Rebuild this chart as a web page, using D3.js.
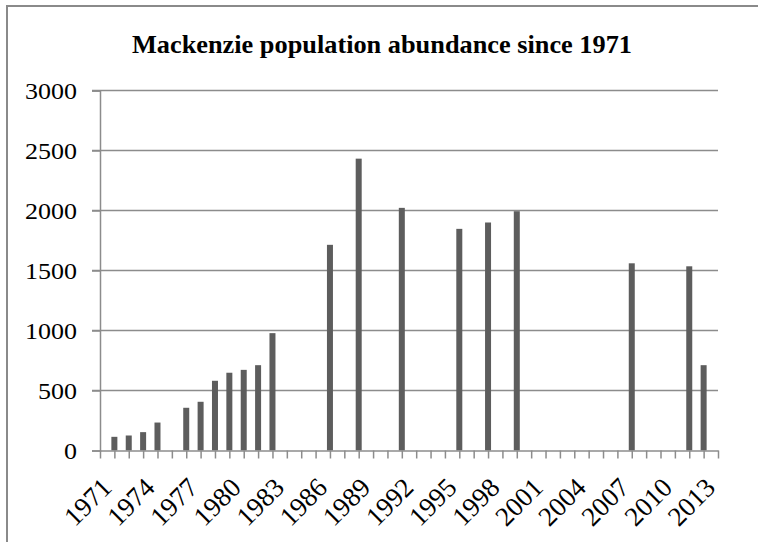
<!DOCTYPE html>
<html>
<head>
<meta charset="utf-8">
<script src="https://cdn.jsdelivr.net/npm/d3@7.9.0/dist/d3.min.js"></script>
<style>
  body { margin: 0; background: #fff; overflow: hidden; }
  svg { display: block; font-family: "Liberation Serif", "Times New Roman", serif; }
</style>
</head>
<body>
<svg id="chart" width="758" height="542"></svg>
<script>
// years on the category axis, 1971 .. 2014
const years = d3.range(1971, 2015);
// survey years and counts
const surveyYears = [1972, 1973, 1974, 1975, 1977, 1978, 1979, 1980, 1981, 1982, 1983,
                     1987, 1989, 1992, 1996, 1998, 2000, 2008, 2012, 2013];
const abundance = [114, 125, 153, 233, 356, 406, 581, 648, 672, 711, 978,
                   1714, 2432, 2022, 1847, 1900, 1994, 1560, 1535, 711];
const yTicks = [0, 500, 1000, 1500, 2000, 2500, 3000];
const labelYears = years.filter((y) => (y - 1971) % 3 === 0);

const svg = d3.select('#chart');
const plotLeft = 100, plotRight = 718, plotTop = 90.5, plotBottom = 450.5;
const axisGrey = '#8c8c8c';

// frame of the chart area, only its top and left edges are inside the picture
svg.append('path')
  .attr('d', 'M7,542V6H758')
  .attr('fill', 'none').attr('stroke', '#8a8a8a').attr('stroke-width', 2);

svg.append('text')
  .attr('x', 132).attr('y', 53)
  .attr('font-size', 26).attr('font-weight', 'bold')
  .attr('textLength', 500).attr('lengthAdjust', 'spacingAndGlyphs')
  .text('Mackenzie population abundance since 1971');

let x = d3.scalePoint().domain(years).range([plotLeft, plotRight]);
let y = d3.scaleLinear().domain([0, 3000]).range([plotBottom, plotTop]);

// gridlines
svg.append('g')
  .selectAll('line')
  .data(yTicks.filter((d) => d > 0))
  .join('line')
  .attr('x1', plotLeft - 8).attr('x2', plotRight)
  .attr('y1', (d) => y(d)).attr('y2', (d) => y(d))
  .attr('stroke', axisGrey).attr('stroke-width', 1.5);

// y axis
let yAxis = svg.append('g')
  .attr('transform', `translate(${plotLeft},0)`)
  .call(d3.axisLeft(y).tickValues(yTicks).tickSize(8).tickPadding(15).tickFormat(d3.format('d')));
yAxis.selectAll('line').attr('stroke', axisGrey).attr('stroke-width', 1.5);
yAxis.select('.domain').attr('stroke', axisGrey).attr('stroke-width', 1.5);
yAxis.selectAll('text')
  .attr('font-size', 24).attr('fill', '#000')
  .attr('font-family', '"Liberation Serif", serif')
  .attr('textLength', (d) => String(d).length * 13)
  .attr('lengthAdjust', 'spacingAndGlyphs');

// bars
const barW = 6;
svg.append('g')
  .selectAll('rect')
  .data(surveyYears)
  .join('rect')
  .attr('x', (d) => x(d) - barW / 2)
  .attr('y', (d, i) => y(abundance[i]))
  .attr('width', barW)
  .attr('height', (d, i) => plotBottom - y(abundance[i]))
  .attr('fill', '#5d5d5d');

// x axis, a label every third year
let xAxis = svg.append('g')
  .attr('transform', `translate(0,${plotBottom})`)
  .call(d3.axisBottom(x).tickSize(8).tickSizeOuter(0).tickFormat((d) => (labelYears.includes(d) ? d : '')));
xAxis.selectAll('line').attr('stroke', axisGrey).attr('stroke-width', 1.5);
xAxis.select('.domain').attr('stroke', axisGrey).attr('stroke-width', 1.5);
xAxis.selectAll('text')
  .attr('font-size', 27).attr('fill', '#000')
  .attr('font-family', '"Liberation Serif", serif')
  .attr('text-anchor', 'end')
  .attr('dy', 0)
  .attr('transform', 'translate(5,31) rotate(-45)');
</script>
</body>
</html>
